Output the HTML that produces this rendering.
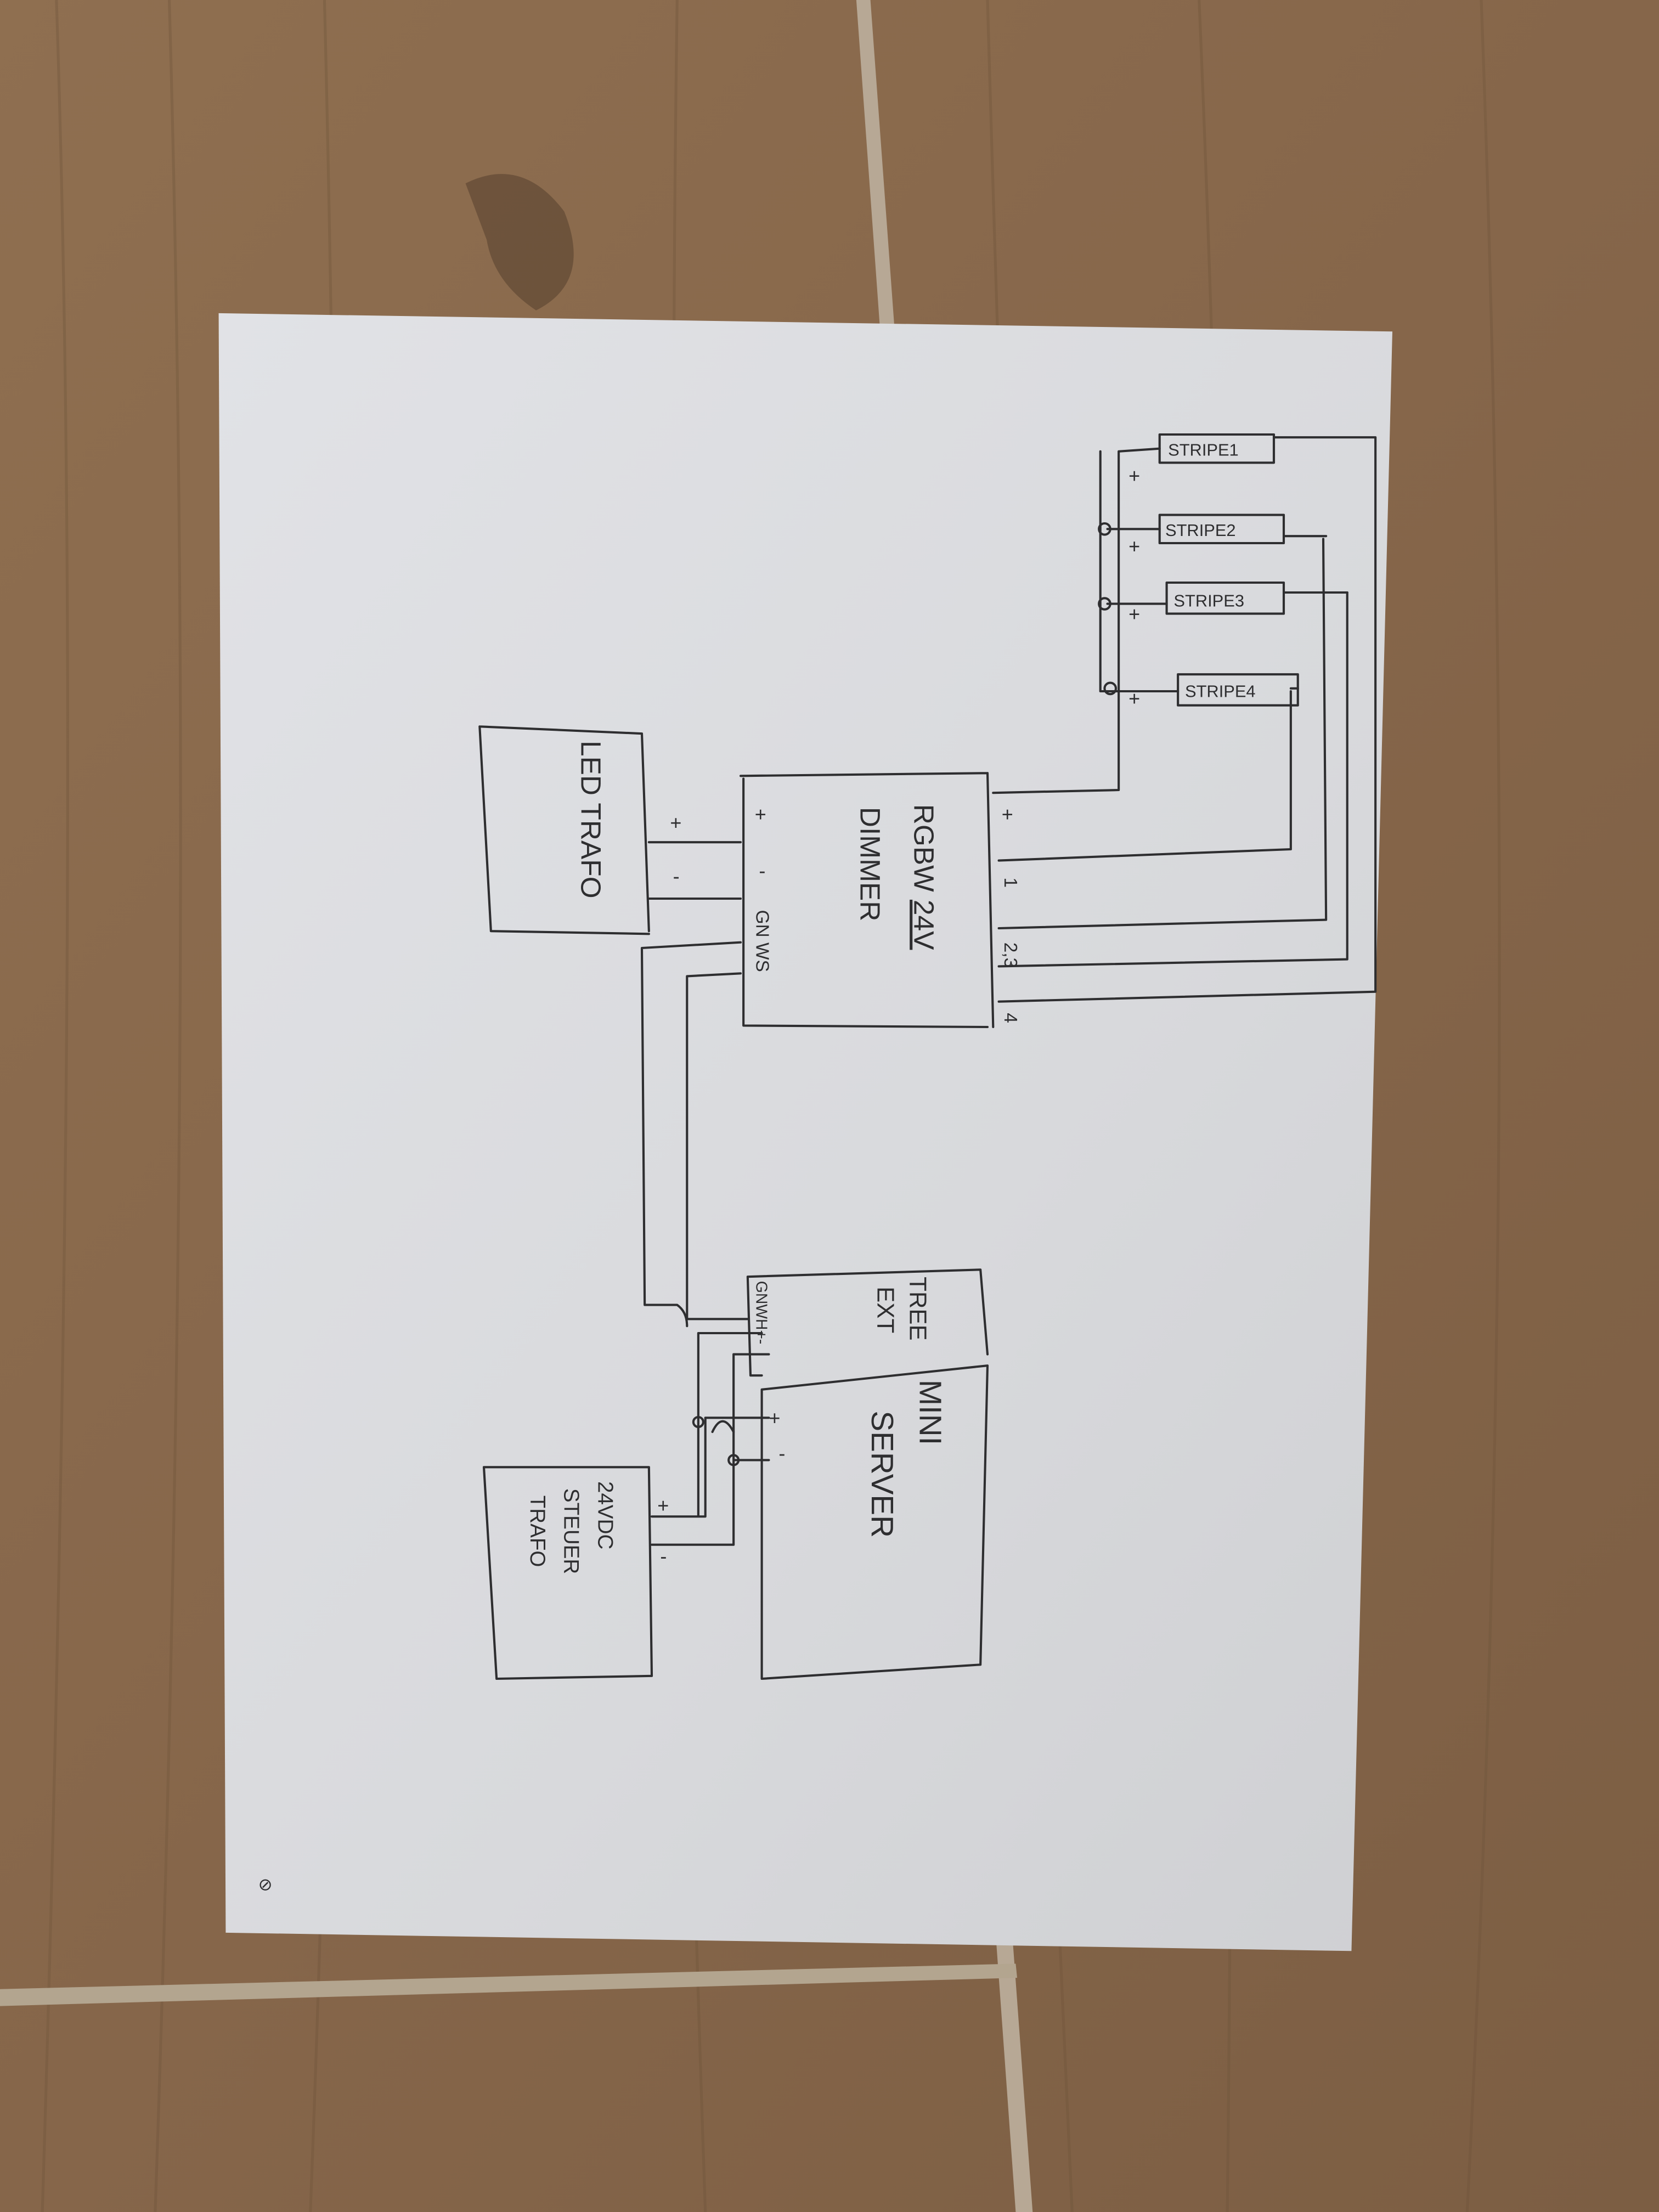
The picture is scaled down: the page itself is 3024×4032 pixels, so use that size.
<!DOCTYPE html>
<html><head><meta charset="utf-8"><style>
html,body{margin:0;padding:0;width:3024px;height:4032px;overflow:hidden;background:#8c6c4d}
svg{display:block}
</style></head><body>
<svg width="3024" height="4032" viewBox="0 0 1176 1568" xmlns="http://www.w3.org/2000/svg">
<defs>
<linearGradient id="wood" x1="0" y1="0" x2="1" y2="1">
<stop offset="0" stop-color="#8f6f50"/><stop offset="0.5" stop-color="#86664a"/><stop offset="1" stop-color="#7c5e43"/>
</linearGradient>
<linearGradient id="paper" x1="0" y1="0" x2="1" y2="1">
<stop offset="0" stop-color="#e1e2e6"/><stop offset="0.6" stop-color="#d8d9dc"/><stop offset="1" stop-color="#cfd0d3"/>
</linearGradient>
</defs>
<rect width="1176" height="1568" fill="url(#wood)"/>
<g stroke="#6e5239" stroke-width="2" opacity="0.35" fill="none">
<path d="M40,0 Q60,600 30,1568 M120,0 Q140,700 110,1568 M230,0 Q250,800 220,1568 M480,0 Q470,700 500,1568 M700,0 Q720,700 760,1568 M850,0 Q880,700 870,1568 M1050,0 Q1080,800 1040,1568"/>
</g>
<path d="M330,130 Q370,110 400,150 Q420,200 380,220 Q350,200 345,170 Z" fill="#5a4330" opacity="0.6"/>
<polygon points="607,0 617,0 732,1568 720,1568" fill="#b7a895"/>
<polygon points="0,1410 720,1392 721,1402 0,1422" fill="#b3a58f"/>
<polygon points="155,222 987,235 958,1383 160,1370" fill="url(#paper)"/>
<g fill="none" stroke="#2e2e30" stroke-width="1.6" stroke-linecap="round" stroke-linejoin="round">
<path d="M340,515 L455,520 M340,515 L348,660 L460,662 M455,520 L460,660"/>
<path d="M460,597 L525,597 M460,637 L525,637"/>
<path d="M525,550 L700,548 M527,552 L527,727 L700,728 M700,548 L704,728"/>
<path d="M704,562 L793,560 L793,320 L822,318"/>
<path d="M780,320 L780,490 L835,490 M785,375 L822,375 M785,428 L827,428"/>
<circle cx="783" cy="375" r="4"/><circle cx="783" cy="428" r="4"/><circle cx="787" cy="488" r="4"/>
<rect x="822" y="308" width="81" height="20"/>
<rect x="822" y="365" width="88" height="20"/>
<rect x="827" y="413" width="83" height="22"/>
<rect x="835" y="478" width="85" height="22"/>
<path d="M708,610 L915,602 L915,490"/>
<path d="M708,658 L940,652 L938,382"/>
<path d="M708,685 L955,680 L955,420"/>
<path d="M708,710 L975,703 L975,310 L903,310"/>
<path d="M910,380 L940,380 M910,420 L955,420 M920,488 L915,488"/>
<path d="M525,668 L455,672 L457,925 L480,925 Q487,930 487,940"/>
<path d="M525,690 L487,692 L487,935 L530,935"/>
<path d="M530,905 L695,900 L700,960 M530,905 L532,975 L540,975"/>
<path d="M540,985 L700,968 L695,1180 L540,1190 L540,985"/>
<path d="M343,1040 L460,1040 L462,1188 L352,1190 L343,1040"/>
<path d="M462,1075 L500,1075 L500,1005 L545,1005 M540,945 L495,945 L495,1075"/>
<path d="M462,1095 L520,1095 L520,960 L545,960 M520,1035 L545,1035"/>
<circle cx="495" cy="1008" r="3.5"/><circle cx="520" cy="1035" r="3.5"/>
<path d="M505,1015 Q512,1000 520,1015"/>
</g>
<g fill="#2e2e30" font-family="Liberation Sans, sans-serif">
<text x="183" y="1340" font-size="12">⊘</text>
<text font-size="12" x="828" y="323">STRIPE1</text>
<text font-size="12" x="826" y="380">STRIPE2</text>
<text font-size="12" x="832" y="430">STRIPE3</text>
<text font-size="12" x="840" y="494">STRIPE4</text>
<text font-size="14" x="800" y="342">+</text>
<text font-size="14" x="800" y="392">+</text>
<text font-size="14" x="800" y="440">+</text>
<text font-size="14" x="800" y="500">+</text>
<text font-size="14" x="475" y="588">+</text><text font-size="14" x="477" y="626">-</text>
<text font-size="14" x="535" y="582">+</text><text font-size="14" x="538" y="622">-</text>
<text font-size="14" x="710" y="582">+</text>
<g font-size="20" transform="translate(648,570) rotate(90)"><text>RGBW <tspan text-decoration="underline">24V</tspan></text></g>
<g font-size="20" transform="translate(610,572) rotate(90)"><text>DIMMER</text></g>
<g font-size="13" transform="translate(536,645) rotate(90)"><text>GN WS</text></g>
<g font-size="13" transform="translate(712,622) rotate(90)"><text>1</text></g>
<g font-size="13" transform="translate(712,668) rotate(90)"><text>2,3</text></g>
<g font-size="13" transform="translate(712,718) rotate(90)"><text>4</text></g>
<g font-size="20" transform="translate(412,525) rotate(90)"><text>LED TRAFO</text></g>
<g font-size="17" transform="translate(645,905) rotate(90)"><text>TREE</text></g>
<g font-size="17" transform="translate(622,912) rotate(90)"><text>EXT</text></g>
<g font-size="11" transform="translate(536,908) rotate(90)"><text>GNWH+-</text></g>
<g font-size="22" transform="translate(652,978) rotate(90)"><text>MINI</text></g>
<g font-size="22" transform="translate(618,1000) rotate(90)"><text>SERVER</text></g>
<text font-size="14" x="545" y="1010">+</text><text font-size="14" x="552" y="1035">-</text>
<g font-size="15" transform="translate(424,1050) rotate(90)"><text>24VDC</text></g>
<g font-size="15" transform="translate(400,1055) rotate(90)"><text>STEUER</text></g>
<g font-size="15" transform="translate(376,1060) rotate(90)"><text>TRAFO</text></g>
<text font-size="14" x="466" y="1072">+</text><text font-size="14" x="468" y="1108">-</text>
</g>
</svg>
</body></html>
